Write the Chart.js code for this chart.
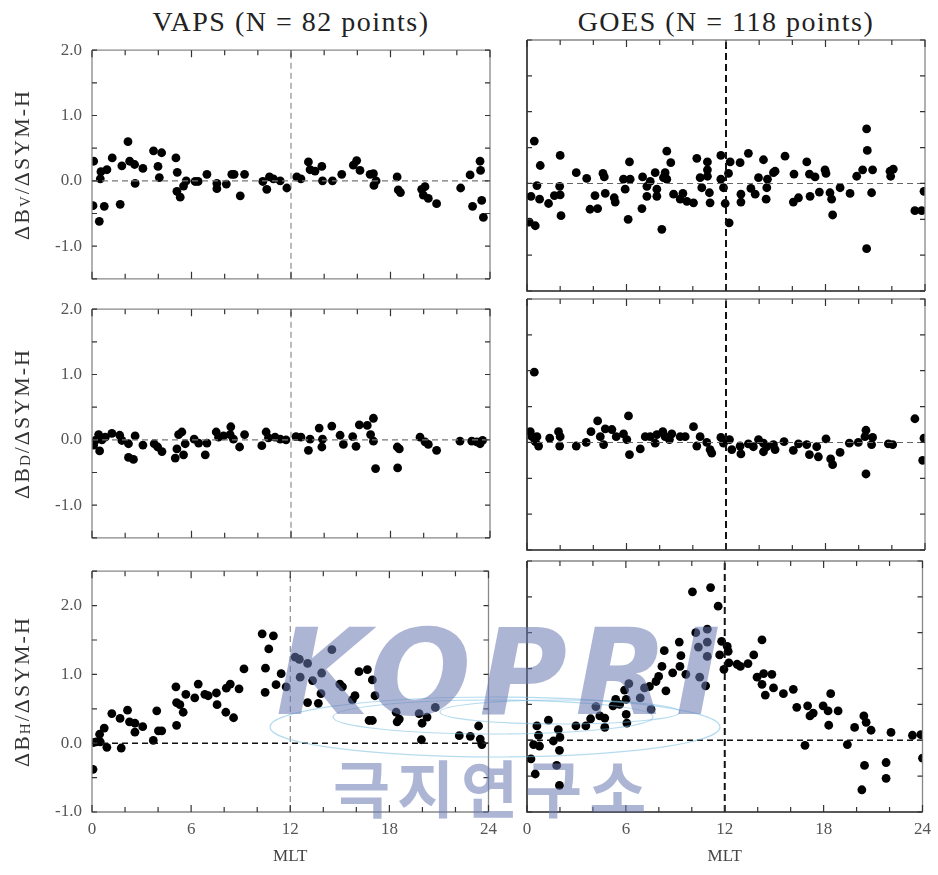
<!DOCTYPE html>
<html>
<head>
<meta charset="utf-8">
<script src="https://cdn.jsdelivr.net/npm/chart.js@4.4.0/dist/chart.umd.min.js"></script>
<style>
body { margin: 0; background: #fff; }
#wrap { position: relative; width: 938px; height: 875px; overflow: hidden; font-family: 'Liberation Serif', serif; }
#wrap canvas { position: absolute; }
.head { position: absolute; top: 7px; width: 398px; text-align: center; font-size: 28px; line-height: 30px; letter-spacing: 1.5px; color: #222; }
.mark { position: absolute; pointer-events: none; color: rgba(105, 120, 178, 0.55); white-space: nowrap; }
#markA { left: 276px; top: 613px; font: italic bold 120px/1 'DejaVu Sans', sans-serif; letter-spacing: 8px; }
#markB { left: 333px; top: 755px; font: bold 62px/1 'Noto Sans CJK KR', sans-serif; letter-spacing: 7px; }
#globe { position: absolute; left: 0; top: 0; pointer-events: none; }
</style>
</head>
<body>
<div id="wrap">
  <div class="head" style="left:92px">VAPS (N = 82 points)</div>
  <div class="head" style="left:527px">GOES (N = 118 points)</div>
  <canvas id="c00"></canvas>
  <canvas id="c01"></canvas>
  <canvas id="c10"></canvas>
  <canvas id="c11"></canvas>
  <canvas id="c20"></canvas>
  <canvas id="c21"></canvas>
  <svg id="globe" width="938" height="875">
    <g fill="none" stroke="rgba(120,190,225,0.55)" stroke-width="1.2">
      <ellipse cx="495" cy="727" rx="225" ry="30"></ellipse>
      <ellipse cx="493" cy="717" rx="160" ry="17"></ellipse>
      <ellipse cx="560" cy="712" rx="120" ry="12"></ellipse>
    </g>
  </svg>
  <div class="mark" id="markA">KOPRI</div>
  <div class="mark" id="markB">극지연구소</div>
</div>
<script>
// axis ranges and labels
var mltRange = [0, 24];
var mltLabels = [0, 6, 12, 18, 24];
var ratioRangeVD = [-1.5, 2.0];
var ratioRangeH = [-1.0, 2.5];
var noonMlt = 12;
var zeroRatio = 0;

// VAPS dB_V / dSYM-H
var vapsMltV = [0.1,0.06,0.44,0.5,0.54,0.74,0.9,1.22,1.7,1.8,2.17,2.27,2.57,2.6,3.07,3.71,4.2,3.98,4.06,5.06,5.14,5.12,5.32,5.52,5.68,6.22,6.4,6.93,7.53,7.53,8.1,8.43,8.57,8.94,9.2,10.3,10.54,10.7,10.94,11.35,11.75,12.35,12.6,13.05,13.15,13.45,13.86,13.9,14.5,15.06,15.76,15.96,16.16,16.77,16.97,17.0,17.13,18.4,18.47,18.6,19.88,20.08,19.98,20.28,20.78,22.23,22.8,22.95,23.4,23.43,23.5,23.6];
var vapsBv = [0.30,-0.38,-0.62,0.03,0.14,-0.39,0.17,0.35,-0.36,0.23,0.60,0.30,0.25,-0.04,0.19,0.46,0.43,0.22,0.05,0.35,0.13,-0.16,-0.25,-0.08,0.0,-0.01,-0.01,0.10,-0.04,-0.12,-0.05,0.10,0.10,-0.23,0.10,-0.01,-0.13,0.06,0.03,0.0,-0.11,0.06,0.03,0.29,0.17,0.15,0.22,0.0,0.0,0.10,0.24,0.31,0.16,0.10,0.11,-0.07,0.0,0.06,-0.14,-0.18,-0.13,-0.09,-0.22,-0.27,-0.35,-0.11,0.09,-0.39,0.30,0.16,-0.30,-0.56];

// GOES dB_V / dSYM-H
var goesMltV = [0.44,0.24,0.14,0.5,0.6,0.8,0.76,1.3,1.65,1.97,2.0,2.0,2.05,2.97,3.6,3.8,4.1,4.26,4.58,4.66,4.72,5.26,5.32,5.82,5.92,6.1,6.18,6.22,6.93,6.97,7.23,7.23,7.43,7.73,7.83,7.83,8.13,8.23,8.33,8.43,8.67,8.43,8.84,9.24,9.4,9.64,10.04,10.24,10.44,10.54,10.88,10.88,10.88,11.0,11.04,11.69,11.69,11.85,11.95,12.15,12.25,12.19,12.85,12.9,12.9,13.35,13.5,13.76,13.96,14.26,14.46,14.42,14.5,14.86,14.96,15.56,16.1,16.06,16.37,16.87,17.03,17.07,17.37,17.63,17.97,18.03,18.27,18.37,18.43,18.88,19.48,19.88,20.24,20.48,20.52,20.48,20.84,20.78,21.89,21.93,22.09,23.39,23.8,23.94];
var goesBv = [0.59,-0.18,-0.54,-0.59,-0.03,0.25,-0.22,-0.28,-0.17,-0.04,0.39,-0.16,-0.45,0.15,0.07,-0.36,-0.17,-0.35,0.14,0.09,-0.14,-0.20,-0.26,0.06,-0.08,-0.50,0.30,0.06,-0.35,0.09,-0.04,-0.18,0.03,0.15,-0.08,-0.18,-0.64,0.08,0.15,0.45,0.29,0.06,-0.15,-0.22,-0.14,-0.25,-0.27,0.35,0.08,-0.06,0.30,0.19,0.10,-0.13,-0.27,0.39,0.06,-0.06,-0.28,0.14,0.30,-0.55,0.29,-0.15,-0.26,0.42,-0.07,-0.15,0.08,0.33,-0.06,-0.22,0.06,0.15,0.17,0.38,0.13,-0.26,-0.20,0.30,0.13,-0.18,0.09,-0.12,0.19,0.14,-0.13,-0.22,-0.44,-0.06,-0.14,0.10,0.19,0.76,0.46,-0.91,0.19,-0.13,0.17,0.10,0.20,-0.38,-0.38,-0.11];

// VAPS dB_D / dSYM-H
var vapsMltD = [0.1,0.2,0.4,0.46,0.6,0.8,1.2,1.67,1.8,2.2,2.2,2.5,2.6,3.07,3.75,3.96,4.22,5.02,5.12,5.22,5.42,5.52,5.62,6.16,6.43,6.83,6.93,7.49,7.63,7.93,8.37,8.33,8.53,8.9,9.2,10.24,10.5,10.64,11.04,11.35,11.7,12.3,12.6,13.05,13.15,13.7,13.86,13.9,14.46,14.96,15.16,15.72,15.92,16.12,16.6,16.97,16.8,16.97,17.1,18.41,18.53,18.43,19.78,20.08,20.28,20.78,22.19,22.9,23.2,23.4,23.55];
var vapsBd = [-0.08,-0.01,0.08,-0.17,0,0.04,0.10,0.07,-0.01,-0.06,-0.27,-0.30,0.06,-0.08,-0.06,-0.11,-0.18,-0.28,-0.14,0.08,0.12,-0.23,-0.06,0.01,-0.05,-0.23,-0.05,0.12,0.04,0.06,0.20,0.08,0.01,-0.11,0.08,-0.09,0.12,0.03,0.04,0.01,0,0.05,0.04,-0.16,0.01,0.18,-0.11,0.01,0.21,0.07,-0.07,0.05,-0.10,0.23,0.22,0.33,0.08,-0.02,-0.44,-0.11,-0.14,-0.43,0.04,-0.03,-0.07,-0.16,-0.02,-0.02,-0.03,-0.06,-0.01];

// GOES dB_D / dSYM-H
var goesMltD = [0.44,0.2,0.3,0.5,0.7,0.6,1.37,1.9,1.97,2.0,2.97,3.57,3.86,4.26,4.42,4.62,4.72,5.12,5.38,5.82,6.12,6.02,6.18,6.83,7.13,7.43,7.73,7.83,8.19,8.33,8.59,8.73,9.24,9.54,10.04,10.24,10.44,10.84,11.04,11.14,11.69,11.85,12.21,12.35,12.85,12.9,13.35,13.65,13.96,14.26,14.26,14.46,14.86,14.96,15.5,16.06,16.37,16.87,17.03,17.47,17.57,18.03,18.31,18.43,18.88,19.44,19.98,20.44,20.38,20.84,20.78,20.44,21.79,22.05,23.39,23.94,23.86];
var goesBd = [0.98,0.15,0.08,0.01,-0.05,0.08,0.06,0.15,-0.05,0.08,-0.05,0,0.15,0.30,0.08,-0.03,0.19,0.18,0.08,0.12,0.37,0.04,-0.17,-0.09,0.08,0.08,-0.01,0.11,0.15,0.08,0.04,0.12,0.08,0.08,0.22,-0.05,0.08,0,-0.10,-0.15,0.07,-0.01,0.04,-0.10,-0.05,-0.16,-0.02,-0.06,0.04,-0.01,-0.13,-0.06,-0.03,-0.10,0.01,-0.11,-0.02,-0.03,-0.17,-0.06,-0.20,0.05,-0.23,-0.31,-0.14,-0.01,0,0.17,0.08,0.07,-0.03,-0.44,-0.02,-0.03,0.33,0.06,-0.25];

// VAPS dB_H / dSYM-H
var vapsMltH = [0.06,0.1,0.26,0.46,0.5,0.74,0.9,1.2,1.7,1.77,2.15,2.27,2.6,2.6,3.07,3.71,3.92,4.02,4.22,5.08,5.12,5.12,5.32,5.52,5.68,6.22,6.43,6.83,7.03,7.53,7.57,8.1,8.13,8.37,8.57,8.9,9.2,10.3,10.98,10.7,10.5,10.48,11.14,11.45,11.75,12.3,12.55,13.05,12.6,13.35,13.9,13.86,13.05,13.7,14.52,15.0,15.16,15.76,15.92,16.16,16.67,16.97,17.13,16.77,16.97,18.41,18.47,18.6,19.8,19.98,20.28,19.94,20.78,22.23,22.9,23.4,23.5,23.6];
var vapsBh = [-0.38,0.01,0.02,0.13,0.02,0.22,-0.06,0.43,0.36,-0.07,0.48,0.31,0.29,0.16,0.24,0.04,0.47,0.18,0.18,0.82,0.59,0.26,0.56,0.45,0.71,0.66,0.86,0.71,0.69,0.73,0.56,0.45,0.80,0.86,0.37,0.79,1.08,1.59,1.56,1.37,1.09,0.74,0.85,1.01,0.82,1.25,1.22,1.16,0.96,0.91,1.02,0.72,0.59,0.58,1.36,0.86,0.82,0.63,0.69,1.04,1.07,0.92,0.69,0.33,0.33,0.45,0.31,0.35,0.43,0.29,0.38,0.05,0.52,0.11,0.10,0.25,0.06,-0.02];

// GOES dB_H / dSYM-H
var goesMltH = [0.24,0.4,0.5,0.6,0.7,0.76,1.3,1.6,1.8,1.9,2.0,1.97,1.97,2.97,3.57,3.86,4.18,4.42,4.72,4.72,5.22,5.38,5.62,6.02,5.92,6.18,6.02,6.06,6.87,7.13,7.43,7.53,7.83,7.99,8.19,8.33,8.43,8.84,9.24,9.34,9.28,9.64,10.04,10.24,10.4,10.48,10.84,10.94,10.94,10.94,11.14,11.6,11.69,11.81,11.95,12.15,12.21,12.25,12.75,12.95,13.41,13.76,14.26,13.96,14.36,14.46,14.86,14.26,14.96,15.56,16.16,16.37,16.87,17.03,17.17,17.37,17.97,18.27,18.43,18.31,18.88,19.44,19.88,20.44,20.58,20.88,20.48,20.32,21.79,21.79,22.09,23.39,23.9,24.0];
var goesBh = [-0.26,-0.06,-0.47,0.20,0.07,-0.08,0.28,-0.01,-0.35,0.15,0.04,-0.14,-0.63,0.20,0.20,0.30,0.47,0.34,0.31,0.18,0.48,0.57,0.50,0.57,0.70,0.79,0.36,0.24,0.59,0.73,0.75,0.43,0.82,0.89,1.03,1.25,0.69,0.94,1.37,1.18,1.03,0.92,2.07,1.50,1.30,0.88,0.76,1.55,1.37,1.17,2.13,1.87,1.19,1.38,0.99,1.31,1.24,1.08,1.06,1.03,1.07,1.19,1.40,0.88,0.93,0.63,0.92,0.78,0.73,0.65,0.71,0.46,-0.07,0.48,0.34,0.38,0.48,0.41,0.65,0.21,0.41,-0.06,0.18,0.34,0.25,0.14,-0.35,-0.69,-0.31,-0.53,0.11,0.07,0.08,-0.25];

Chart.defaults.font.family = "'Liberation Serif', 'Times New Roman', serif";
Chart.defaults.color = '#555';

// layout of the 3x2 grid (pixels)
var colLeft = [92, 527];
var rowTop = [40, 299, 561];
var areaW = 398, areaH = 251;

function toPoints(xs, ys) {
    return xs.map(function (x, i) { return { x: x, y: ys[i] }; });
}

// frame on all four sides plus inward tick marks, like the original plot
var framePlugin = {
    id: 'frame',
    afterDraw: function (chart, args, opts) {
        var ctx = chart.ctx, a = chart.chartArea;
        var xs = chart.scales.x, ys = chart.scales.y;
        ctx.save();
        ctx.lineWidth = 1.3;
        ctx.strokeStyle = opts.light;
        ctx.beginPath();
        ctx.moveTo(a.left, a.top); ctx.lineTo(a.right, a.top); ctx.lineTo(a.right, a.bottom);
        ctx.stroke();
        ctx.strokeStyle = opts.dark;
        ctx.lineWidth = opts.darkWidth;
        ctx.beginPath();
        ctx.moveTo(a.left, a.top); ctx.lineTo(a.left, a.bottom); ctx.lineTo(a.right, a.bottom);
        ctx.stroke();

        ctx.strokeStyle = '#333';
        ctx.lineWidth = 1.2;
        ctx.beginPath();
        xs.ticks.forEach(function (t) {
            var px = xs.getPixelForValue(t.value);
            var len = t.value % 6 === 0 ? 7 : 5;
            ctx.moveTo(px, a.top); ctx.lineTo(px, a.top + len);
            ctx.moveTo(px, a.bottom); ctx.lineTo(px, a.bottom - len);
        });
        ys.ticks.forEach(function (t) {
            var py = ys.getPixelForValue(t.value);
            ctx.moveTo(a.left, py); ctx.lineTo(a.left + 5, py);
            ctx.moveTo(a.right, py); ctx.lineTo(a.right - 5, py);
        });
        ctx.stroke();

        // y title with a subscript component letter
        if (opts.sub) {
            var cy = (a.top + a.bottom) / 2;
            var parts = [['\u0394B', "22px 'Liberation Serif'", 0], [opts.sub, "15px 'Liberation Serif'", 3], ['/\u0394SYM-H', "22px 'Liberation Serif'", 0]];
            ctx.translate(23.5, cy);
            ctx.rotate(-Math.PI / 2);
            ctx.letterSpacing = '2px';
            ctx.fillStyle = '#333';
            ctx.textBaseline = 'middle';
            var total = 0;
            parts.forEach(function (p) { ctx.font = p[1]; total += ctx.measureText(p[0]).width; });
            var x = -total / 2;
            parts.forEach(function (p) {
                ctx.font = p[1];
                ctx.fillText(p[0], x, p[2]);
                x += ctx.measureText(p[0]).width;
            });
        }
        ctx.restore();
    }
};

function makePanel(row, col, xs, ys, range, sub) {
    var canvas = document.getElementById('c' + row + col);
    var axisW = col === 0 ? 92 : 17;
    var padRight = col === 0 ? 14 : 13;
    var xAxisH = row === 2 ? 63 : 8;
    canvas.width = axisW + areaW + padRight;
    canvas.height = 10 + areaH + xAxisH;
    canvas.style.left = (colLeft[col] - axisW) + 'px';
    canvas.style.top = (rowTop[row] - 10) + 'px';

    var bottomRow = row === 2;
    var vLine = col === 0 ? { c: '#777', w: 1, d: [6, 4] } : { c: '#111', w: 2, d: [7, 4] };
    var hLine = bottomRow ? { c: '#111', w: 1.5, d: [6, 4] } : { c: col === 0 ? '#777' : '#666', w: 1.1, d: [6, 4] };

    new Chart(canvas, {
        type: 'scatter',
        data: {
            datasets: [
                {
                    type: 'line',
                    data: [{ x: mltRange[0], y: zeroRatio }, { x: mltRange[1], y: zeroRatio }],
                    borderColor: hLine.c, borderWidth: hLine.w, borderDash: hLine.d,
                    pointRadius: 0, fill: false
                },
                {
                    type: 'line',
                    data: [{ x: noonMlt, y: range[0] }, { x: noonMlt, y: range[1] }],
                    borderColor: vLine.c, borderWidth: vLine.w, borderDash: vLine.d,
                    pointRadius: 0, fill: false
                },
                {
                    data: toPoints(xs, ys),
                    backgroundColor: '#000',
                    borderWidth: 0,
                    pointRadius: 4.4,
                    clip: 0
                }
            ]
        },
        options: {
            responsive: false,
            animation: false,
            events: [],
            layout: { padding: { top: 10, right: padRight, left: 0, bottom: 0 } },
            plugins: {
                legend: { display: false },
                tooltip: { enabled: false },
                frame: {
                    light: '#888',
                    dark: col === 0 ? '#888' : '#222',
                    darkWidth: col === 0 ? 1.3 : 1.6,
                    sub: col === 0 ? sub : null
                }
            },
            scales: {
                x: {
                    type: 'linear',
                    min: mltRange[0], max: mltRange[1],
                    grid: { display: false, drawTicks: false },
                    border: { display: false },
                    afterFit: function (s) { s.height = xAxisH; },
                    ticks: {
                        display: bottomRow,
                        stepSize: 2,
                        padding: 7,
                        maxRotation: 0,
                        autoSkip: false,
                        font: { size: 17 },
                        color: '#555',
                        callback: function (v) { return mltLabels.indexOf(v) >= 0 ? String(v) : ''; }
                    },
                    title: {
                        display: bottomRow,
                        text: 'MLT',
                        color: '#444',
                        font: { size: 17 },
                        padding: { top: 0, bottom: 8 }
                    }
                },
                y: {
                    type: 'linear',
                    min: range[0], max: range[1],
                    grid: { display: false, drawTicks: false },
                    border: { display: false },
                    afterFit: function (s) { s.width = axisW; },
                    ticks: {
                        display: col === 0,
                        stepSize: 0.5,
                        padding: 10,
                        autoSkip: false,
                        font: { size: 17 },
                        color: '#555',
                        callback: function (v) { return Number.isInteger(v) ? v.toFixed(1) : ''; }
                    }
                }
            }
        },
        plugins: [framePlugin]
    });
}

makePanel(0, 0, vapsMltV, vapsBv, ratioRangeVD, 'V');
makePanel(0, 1, goesMltV, goesBv, ratioRangeVD, null);
makePanel(1, 0, vapsMltD, vapsBd, ratioRangeVD, 'D');
makePanel(1, 1, goesMltD, goesBd, ratioRangeVD, null);
makePanel(2, 0, vapsMltH, vapsBh, ratioRangeH, 'H');
makePanel(2, 1, goesMltH, goesBh, ratioRangeH, null);
</script>
</body>
</html>
